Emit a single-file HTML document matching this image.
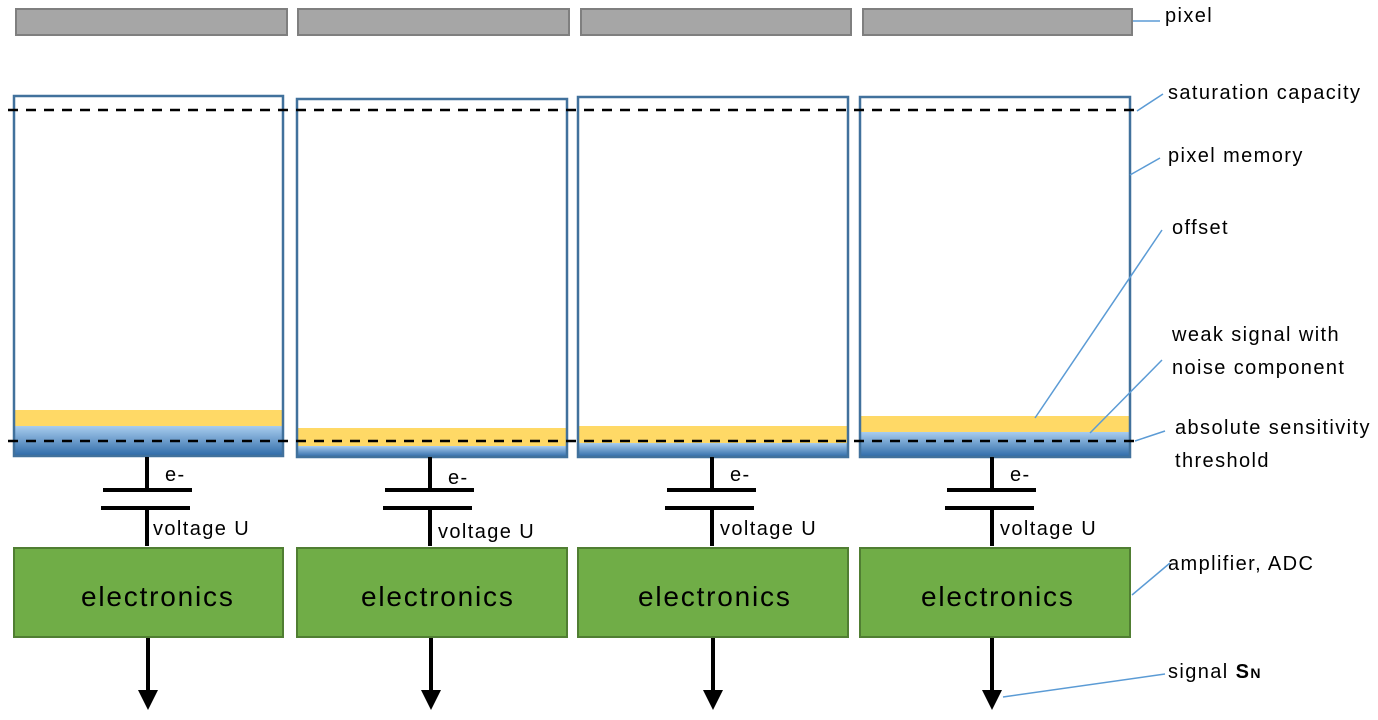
<!DOCTYPE html>
<html><head><meta charset="utf-8"><style>
html,body{margin:0;padding:0;background:#fff;width:1378px;height:720px;overflow:hidden}
text{font-family:"Liberation Sans",sans-serif;font-size:20px;letter-spacing:1.4px;fill:#000}
text.el{font-size:28px;letter-spacing:1.8px}
</style></head><body>
<svg width="1378" height="720" viewBox="0 0 1378 720" xmlns="http://www.w3.org/2000/svg">
<defs>
<linearGradient id="bl" x1="0" y1="0" x2="0" y2="1">
<stop offset="0" stop-color="#a9cdee"/><stop offset="1" stop-color="#2e6aa8"/>
</linearGradient>
</defs>
<g fill="#a6a6a6" stroke="#7f7f7f" stroke-width="2">
<rect x="16" y="9" width="271" height="26"/>
<rect x="298" y="9" width="271" height="26"/>
<rect x="581" y="9" width="270" height="26"/>
<rect x="863" y="9" width="269" height="26"/>
</g>
<rect x="15" y="410" width="268" height="16" fill="#ffd966"/>
<rect x="15" y="426" width="268" height="30" fill="url(#bl)"/>
<rect x="298" y="428" width="269" height="18" fill="#ffd966"/>
<rect x="298" y="446" width="269" height="11" fill="url(#bl)"/>
<rect x="579" y="426" width="269" height="17" fill="#ffd966"/>
<rect x="579" y="443" width="269" height="14" fill="url(#bl)"/>
<rect x="861" y="416" width="269" height="16" fill="#ffd966"/>
<rect x="861" y="432" width="269" height="25" fill="url(#bl)"/>
<g fill="none" stroke="#41719c" stroke-width="2.5">
<rect x="14" y="96" width="269" height="360"/>
<rect x="297" y="99" width="270" height="358"/>
<rect x="578" y="97" width="270" height="360"/>
<rect x="860" y="97" width="270" height="360"/>
</g>
<g stroke="#000" stroke-width="2.5" stroke-dasharray="10,8">
<line x1="8" y1="110" x2="1134" y2="110"/>
<line x1="8" y1="441" x2="1134" y2="441"/>
</g>
<g stroke="#000" stroke-width="4">
<line x1="147" y1="457" x2="147" y2="490"/><line x1="103" y1="490" x2="192" y2="490"/><line x1="101" y1="508" x2="190" y2="508"/><line x1="147" y1="508" x2="147" y2="546"/>
<line x1="430" y1="457" x2="430" y2="490"/><line x1="385" y1="490" x2="474" y2="490"/><line x1="383" y1="508" x2="472" y2="508"/><line x1="430" y1="508" x2="430" y2="546"/>
<line x1="712" y1="457" x2="712" y2="490"/><line x1="667" y1="490" x2="756" y2="490"/><line x1="665" y1="508" x2="754" y2="508"/><line x1="712" y1="508" x2="712" y2="546"/>
<line x1="992" y1="457" x2="992" y2="490"/><line x1="947" y1="490" x2="1036" y2="490"/><line x1="945" y1="508" x2="1034" y2="508"/><line x1="992" y1="508" x2="992" y2="546"/>
</g>
<text x="165" y="481">e-</text><text x="153" y="535">voltage U</text>
<text x="448" y="484">e-</text><text x="438" y="538">voltage U</text>
<text x="730" y="481">e-</text><text x="720" y="535">voltage U</text>
<text x="1010" y="481">e-</text><text x="1000" y="535">voltage U</text>
<g fill="#70ad47" stroke="#507e32" stroke-width="2">
<rect x="14" y="548" width="269" height="89"/>
<rect x="297" y="548" width="270" height="89"/>
<rect x="578" y="548" width="270" height="89"/>
<rect x="860" y="548" width="270" height="89"/>
</g>
<text class="el" x="81" y="606">electronics</text>
<text class="el" x="361" y="606">electronics</text>
<text class="el" x="638" y="606">electronics</text>
<text class="el" x="921" y="606">electronics</text>
<g stroke="#000" stroke-width="4">
<line x1="148" y1="638" x2="148" y2="694"/><line x1="431" y1="638" x2="431" y2="694"/><line x1="713" y1="638" x2="713" y2="694"/><line x1="992" y1="638" x2="992" y2="694"/>
</g>
<g fill="#000">
<polygon points="138,690 158,690 148,710"/><polygon points="421,690 441,690 431,710"/><polygon points="703,690 723,690 713,710"/><polygon points="982,690 1002,690 992,710"/>
</g>
<g stroke="#5b9bd5" stroke-width="1.5">
<line x1="1133" y1="21" x2="1160" y2="21"/>
<line x1="1137" y1="111" x2="1163" y2="94"/>
<line x1="1130" y1="175" x2="1160" y2="158"/>
<line x1="1035" y1="418" x2="1162" y2="230"/>
<line x1="1090" y1="433" x2="1162" y2="360"/>
<line x1="1135" y1="441" x2="1165" y2="431"/>
<line x1="1132" y1="595" x2="1170" y2="563"/>
<line x1="1003" y1="697" x2="1165" y2="674"/>
</g>
<text x="1165" y="22">pixel</text>
<text x="1168" y="99">saturation capacity</text>
<text x="1168" y="162">pixel memory</text>
<text x="1172" y="234">offset</text>
<text x="1172" y="341">weak signal with</text>
<text x="1172" y="374">noise component</text>
<text x="1175" y="434">absolute sensitivity</text>
<text x="1175" y="467">threshold</text>
<text x="1168" y="570">amplifier, ADC</text>
<text x="1168" y="678">signal <tspan font-weight="bold">S</tspan><tspan font-weight="bold" font-size="14">N</tspan></text>
</svg>
</body></html>
